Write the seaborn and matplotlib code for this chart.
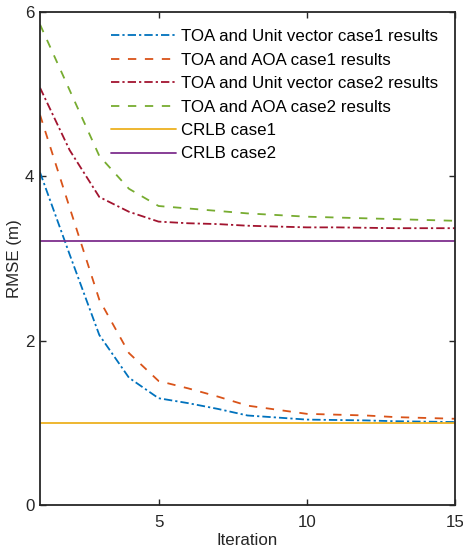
import pandas as pd
import matplotlib
matplotlib.use('Agg')
import matplotlib.pyplot as plt
import seaborn as sns

# Values
iterations = list(range(1, 16))
unit_case1 = [4.05, 3.05, 2.07, 1.55, 1.30, 1.24, 1.17, 1.09, 1.065, 1.04, 1.035, 1.03, 1.02, 1.015, 1.01]
aoa_case1 = [4.75, 3.62, 2.50, 1.85, 1.51, 1.42, 1.32, 1.21, 1.16, 1.11, 1.10, 1.09, 1.07, 1.06, 1.05]
unit_case2 = [5.08, 4.32, 3.75, 3.57, 3.45, 3.43, 3.42, 3.40, 3.39, 3.38, 3.38, 3.375, 3.37, 3.37, 3.37]
aoa_case2 = [5.85, 5.05, 4.25, 3.85, 3.64, 3.61, 3.58, 3.55, 3.53, 3.51, 3.50, 3.49, 3.48, 3.47, 3.46]
crlb_case1 = [1.0] * 15
crlb_case2 = [3.22] * 15

labels = ['TOA and Unit vector case1 results',
          'TOA and AOA case1 results',
          'TOA and Unit vector case2 results',
          'TOA and AOA case2 results',
          'CRLB case1',
          'CRLB case2']
series = [unit_case1, aoa_case1, unit_case2, aoa_case2, crlb_case1, crlb_case2]

# Build a long table for seaborn
df = pd.concat([pd.DataFrame({'Iteration': iterations, 'RMSE': vals, 'method': lab})
                for lab, vals in zip(labels, series)], ignore_index=True)

colors = ['#0072BD', '#D95319', '#A2142F', '#77AC30', '#EDB120', '#7E2F8E']
palette = dict(zip(labels, colors))
dashdot = (6, 2.2, 1.6, 2.2)
dashed = (6, 6.2)
dashes = dict(zip(labels, [dashdot, dashed, dashdot, dashed, '', '']))

sns.set_style('white')
plt.rcParams['font.family'] = ['Liberation Sans', 'DejaVu Sans']
plt.rcParams['lines.scale_dashes'] = False

fs = 12.2

fig = plt.figure(figsize=(4.63, 5.52), dpi=100)
ax = fig.add_axes([0.0864, 0.0851, 0.8963, 0.8929])

sns.lineplot(data=df, x='Iteration', y='RMSE', hue='method', style='method',
             palette=palette, dashes=dashes, linewidth=1.3, ax=ax)

# Axis limits and ticks, MATLAB look
ax.set_xlim(1, 15)
ax.set_ylim(0, 6)
ax.set_xticks([5, 10, 15])
ax.set_yticks([0, 2, 4, 6])
ax.tick_params(direction='in', length=4.5, width=1, colors='#262626',
               labelsize=fs, top=True, right=True, bottom=True, left=True)
ax.tick_params(axis='x', pad=7)
ax.tick_params(axis='y', pad=4)
for sp in ax.spines.values():
    sp.set_visible(True)
    sp.set_color('#262626')
    sp.set_linewidth(1.3)

ax.set_xlabel('Iteration', fontsize=fs, color='#262626', labelpad=2)
ax.set_ylabel('RMSE (m)', fontsize=fs, color='#262626', labelpad=2)

# Legend
leg = ax.legend(loc='upper right', frameon=False, fontsize=fs, handlelength=3.8,
                handletextpad=0.3, labelspacing=0.5, borderaxespad=0.6)
for t in leg.get_texts():
    t.set_color('#000000')

plt.savefig('out.png', dpi=100)
